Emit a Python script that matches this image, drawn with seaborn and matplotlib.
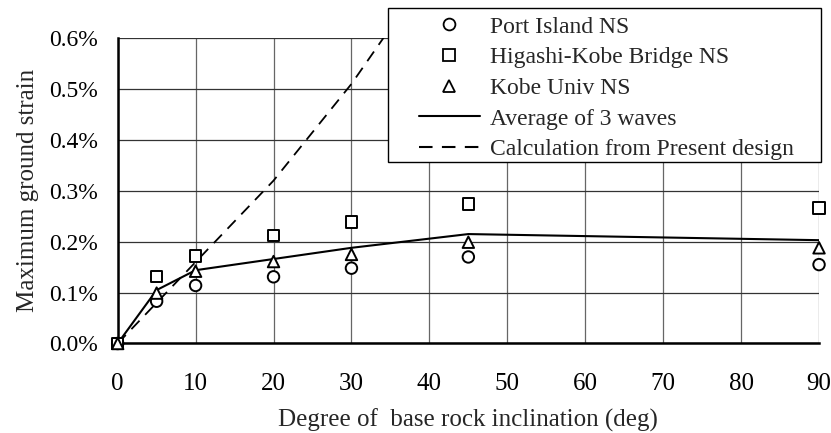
import matplotlib
matplotlib.use("Agg")
import matplotlib.pyplot as plt
import matplotlib.patches as mpatches
import seaborn as sns
import pandas as pd
from matplotlib.ticker import FuncFormatter, MultipleLocator
from matplotlib.lines import Line2D

# data (strain in %)
angles = [0, 5, 10, 20, 30, 45, 90]
port_island = [0.0, 0.083, 0.114, 0.131, 0.148, 0.170, 0.155]
higashi_kobe = [0.0, 0.132, 0.172, 0.212, 0.239, 0.274, 0.266]
kobe_univ = [0.0, 0.099, 0.142, 0.161, 0.175, 0.199, 0.188]
average = [0.0, 0.105, 0.144, 0.166, 0.188, 0.215, 0.203]
design_angles = [0, 5, 10, 20, 30, 45]
design = [0.0, 0.08, 0.16, 0.32, 0.51, 0.84]

labels = ["Port Island NS", "Higashi-Kobe Bridge NS", "Kobe Univ NS",
          "Average of 3 waves", "Calculation from Present design"]

sns.set_style("white")
plt.rcParams["font.family"] = ["Liberation Serif", "DejaVu Serif"]

fig = plt.figure(figsize=(8.31, 4.33), dpi=100)
ax = fig.add_axes([0.1416, 0.2067, 0.9856 - 0.1416, 0.912 - 0.2067])

df_pts = pd.DataFrame({
    "angle": angles * 3,
    "strain": port_island + higashi_kobe + kobe_univ,
    "wave": [labels[0]] * len(angles) + [labels[1]] * len(angles) + [labels[2]] * len(angles),
})
df_avg = pd.DataFrame({"angle": angles, "strain": average})
df_des = pd.DataFrame({"angle": design_angles, "strain": design})

dash = (0, (6.5, 4.5))
sns.lineplot(data=df_des, x="angle", y="strain", ax=ax, color="black",
             linestyle=dash, linewidth=1.3, zorder=3)
sns.lineplot(data=df_avg, x="angle", y="strain", ax=ax, color="black",
             linewidth=1.5, zorder=3)
sns.scatterplot(data=df_pts, x="angle", y="strain", style="wave",
                markers={labels[0]: "o", labels[1]: "s", labels[2]: "^"},
                ax=ax, s=68, facecolor="white", edgecolor="black",
                linewidth=1.4, legend=False, zorder=4, clip_on=False)

ax.set_xlim(0, 90)
ax.set_ylim(0, 0.6)
ax.xaxis.set_major_locator(MultipleLocator(10))
ax.yaxis.set_major_locator(MultipleLocator(0.1))
ax.yaxis.set_major_formatter(FuncFormatter(lambda v, p: f"{v:.1f}%"))
ax.grid(True, axis="x", color="#666666", linewidth=0.9)
ax.grid(True, axis="y", color="#333333", linewidth=0.9)
ax.set_axisbelow(True)
for s in ["top", "right"]:
    ax.spines[s].set_visible(False)
for s in ["left", "bottom"]:
    ax.spines[s].set_color("black")
    ax.spines[s].set_linewidth(1.8)
ax.tick_params(axis="both", direction="in", length=4, width=1.4, colors="black")
ax.tick_params(axis="y", labelsize=17, pad=14.5)
ax.tick_params(axis="x", labelsize=18, pad=21)
ax.set_xlabel("Degree of  base rock inclination (deg)", fontsize=18, labelpad=10)
ax.set_ylabel("Maximum ground strain", fontsize=18, labelpad=7)

# legend frame (drawn separately to get the wide side padding)
frame = mpatches.Rectangle((388 / 831, 1 - 162 / 433), 433 / 831, 154 / 433,
                           transform=fig.transFigure, facecolor="white",
                           edgecolor="black", linewidth=1.0, zorder=9,
                           clip_on=False)
ax.add_patch(frame)

mk = dict(linestyle="none", markersize=8.5, markerfacecolor="white",
          markeredgecolor="black", markeredgewidth=1.3)
handles = [
    Line2D([], [], marker="o", **mk),
    Line2D([], [], marker="s", **mk),
    Line2D([], [], marker="^", **mk),
    Line2D([], [], color="black", linewidth=1.5),
    Line2D([], [], color="black", linewidth=1.5, linestyle=dash),
]
leg = ax.legend(handles, labels, loc="upper left",
                bbox_to_anchor=(419 / 831, 1 - 16 / 433),
                bbox_transform=fig.transFigure,
                borderaxespad=0, borderpad=0, frameon=False,
                fontsize=17, handlelength=2.58, labelspacing=0.39,
                handletextpad=0.42)
leg.set_zorder(10)

fig.savefig("out.png", dpi=100)
